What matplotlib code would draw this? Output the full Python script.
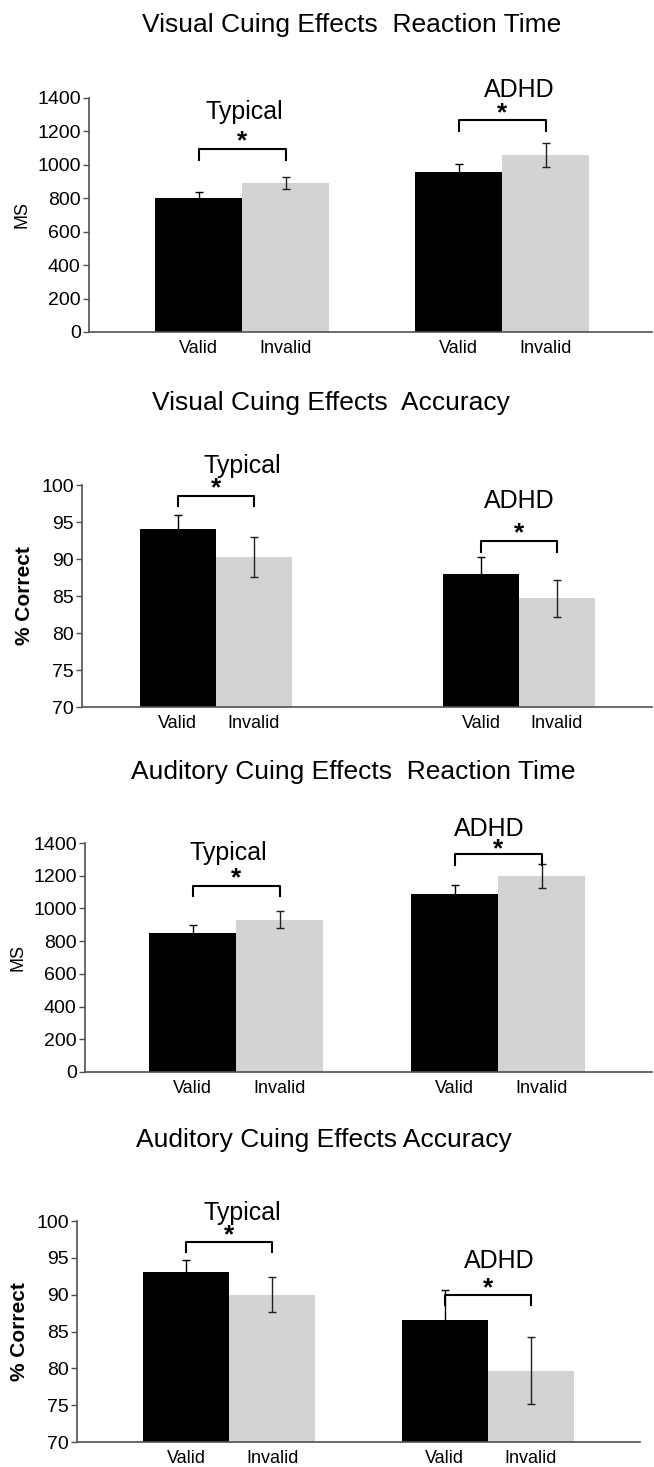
import matplotlib
matplotlib.use('Agg')
import matplotlib.pyplot as plt
import numpy as np

plt.rcParams['font.family'] = ['Liberation Sans', 'DejaVu Sans']

# ---- data ----
groups = ['Typical', 'ADHD']
conditions = ['Valid', 'Invalid']

vis_rt_mean = [[800, 890], [960, 1060]]
vis_rt_err = [[35, 35], [48, 70]]

vis_acc_mean = [[94.0, 90.3], [88.0, 84.7]]
vis_acc_err = [[1.9, 2.7], [2.3, 2.5]]

aud_rt_mean = [[852, 932], [1088, 1198]]
aud_rt_err = [[47, 52], [57, 73]]

aud_acc_mean = [[93.1, 90.0], [86.5, 79.7]]
aud_acc_err = [[1.6, 2.4], [4.1, 4.5]]

titles = ['Visual Cuing Effects  Reaction Time',
          'Visual Cuing Effects  Accuracy',
          'Auditory Cuing Effects  Reaction Time',
          'Auditory Cuing Effects Accuracy']

W, H = 654, 1467
fig = plt.figure(figsize=(W / 100, H / 100), dpi=100)

# layout per panel: axes box in pixels (left, right, top, bottom), group gap in bar
# widths, xlim, y range/ticks, ylabel, title pos, annotation heights
panels = [
    dict(mean=vis_rt_mean, err=vis_rt_err, title=titles[0], tpos=(352, 25),
         box=(89, 652, 98, 332), gap=2.99, xlim=(-1.76, 4.71),
         ylim=(0, 1400), yticks=np.arange(0, 1401, 200), ylabel='MS', ybold=False,
         br=[1094, 1266], leg=65, star=[1140, 1310],
         lab=[(0.03, 1314), (0.19, 1450)]),
    dict(mean=vis_acc_mean, err=vis_acc_err, title=titles[1], tpos=(331, 403),
         box=(82, 652, 485, 707), gap=3.99, xlim=(-1.76, 5.74),
         ylim=(70, 100), yticks=np.arange(70, 101, 5), ylabel='% Correct', ybold=True,
         br=[98.5, 92.4], leg=1.4, star=[99.5, 93.5],
         lab=[(0.35, 102.6), (0.0, 97.9)]),
    dict(mean=aud_rt_mean, err=aud_rt_err, title=titles[2], tpos=(353, 772),
         box=(85, 652, 843, 1072), gap=3.01, xlim=(-1.74, 4.78),
         ylim=(0, 1400), yticks=np.arange(0, 1401, 200), ylabel='MS', ybold=False,
         br=[1138, 1333], leg=65, star=[1185, 1362],
         lab=[(-0.09, 1339), (-0.1, 1488)]),
    dict(mean=aud_acc_mean, err=aud_acc_err, title=titles[3], tpos=(324, 1140),
         box=(77, 640, 1221, 1442), gap=3.01, xlim=(-1.77, 4.78),
         ylim=(70, 100), yticks=np.arange(70, 101, 5), ylabel='% Correct', ybold=True,
         br=[97.1, 89.94], leg=1.35, star=[98.0, 90.8],
         lab=[(0.15, 101.1), (0.13, 94.6)]),
]

axis_col = '#505050'
gray = '#d3d3d3'

for p in panels:
    l, r, t, b = p['box']
    ax = fig.add_axes([l / W, 1 - b / H, (r - l) / W, (b - t) / H])
    centers = np.array([0, p['gap']])
    mean = np.array(p['mean'])
    err = np.array(p['err'])
    xs_valid = centers - 0.5
    xs_invalid = centers + 0.5
    ax.bar(xs_valid, mean[:, 0], width=1.0, color='black', zorder=2)
    ax.bar(xs_invalid, mean[:, 1], width=1.0, color=gray, zorder=2)
    ax.errorbar(xs_valid, mean[:, 0], yerr=err[:, 0], fmt='none', ecolor='black',
                elinewidth=1.0, capsize=3, capthick=1.0, zorder=3)
    ax.errorbar(xs_invalid, mean[:, 1], yerr=err[:, 1], fmt='none', ecolor='#202020',
                elinewidth=1.0, capsize=3, capthick=1.0, zorder=3)

    ax.set_xlim(*p['xlim'])
    ax.set_ylim(*p['ylim'])
    ax.set_yticks(p['yticks'])
    ax.set_xticks(np.concatenate([xs_valid, xs_invalid]))
    ax.set_xticklabels(conditions[:1] * 2 + conditions[1:] * 2)
    ax.tick_params(axis='x', length=0, pad=6, labelsize=13)
    ax.tick_params(axis='y', length=4, width=1, color=axis_col, labelsize=14, pad=2)
    for s in ['top', 'right']:
        ax.spines[s].set_visible(False)
    for s in ['left', 'bottom']:
        ax.spines[s].set_color(axis_col)
        ax.spines[s].set_linewidth(1.2)

    if p['ybold']:
        ax.set_ylabel(p['ylabel'], fontsize=15, fontweight='bold', labelpad=5)
    else:
        ax.set_ylabel(p['ylabel'], fontsize=13, labelpad=5)

    # significance brackets, stars and group labels
    for gi, c in enumerate(centers):
        x0, x1 = c - 0.5, c + 0.5
        yb = p['br'][gi]
        ax.plot([x0, x0, x1, x1], [yb - p['leg'], yb, yb, yb - p['leg']],
                color='black', lw=1.5, clip_on=False, zorder=4)
        ax.text(c, p['star'][gi], '*', ha='center', va='center', fontsize=19,
                fontweight='bold', clip_on=False)
        dx, ly = p['lab'][gi]
        ax.text(c + dx, ly, groups[gi], ha='center', va='center', fontsize=18)

    fig.text(p['tpos'][0] / W, 1 - p['tpos'][1] / H, p['title'],
             ha='center', va='center', fontsize=19)

fig.savefig('out.png', dpi=100)
